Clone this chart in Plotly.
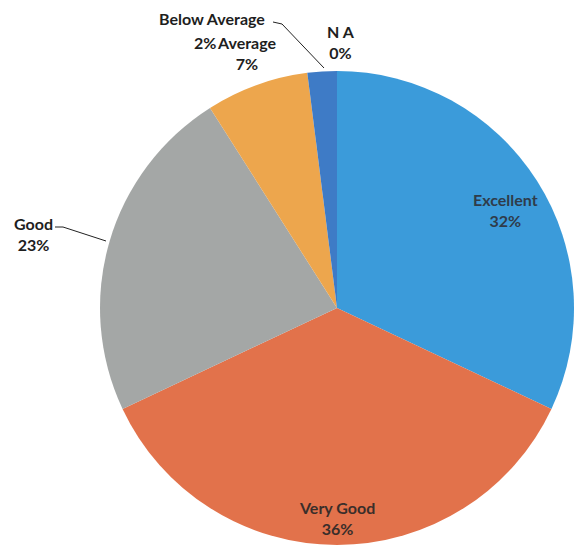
import plotly.graph_objects as go

categories = ["Excellent", "Very Good", "Good", "Average", "Below Average", "N A"]
values = [32, 36, 23, 7, 2, 0]
pct_labels = ["32%", "36%", "23%", "7%", "2%", "0%"]
colors = ["#3B9BDA", "#E2724B", "#A4A7A6", "#EDA64D", "#3E7BC6", "#3B9BDA"]

W, H = 574, 547

def px(x):
    return x / W

def py(y):
    return 1 - y / H

fig = go.Figure(go.Pie(
    labels=categories,
    values=values,
    sort=False,
    direction="clockwise",
    rotation=0,
    marker=dict(colors=colors, line=dict(width=0)),
    textinfo="none",
    hoverinfo="label+percent",
    showlegend=False,
    domain=dict(x=[px(100), 1.0], y=[py(545), py(71)]),
))

FONT = "Lato, Open Sans, sans-serif"
SIZE = 16

label_pos = {
    "Excellent": (505, 210, "#2F3C4A"),
    "Very Good": (337, 518, "#3A2E2A"),
    "Good": (33, 234, "#1E1E1E"),
    "Average": (246, 53, "#1E1E1E"),
    "N A": (341, 42, "#1E1E1E"),
}

def ann(x, y, text, col):
    return dict(x=px(x), y=py(y), xref="paper", yref="paper",
                xanchor="center", yanchor="middle",
                text=text, showarrow=False, align="center",
                font=dict(family=FONT, size=SIZE, color=col))

annotations = []
for cat, pct in zip(categories, pct_labels):
    if cat == "Below Average":
        annotations.append(ann(212, 18, f"<b>{cat}</b>", "#1E1E1E"))
        annotations.append(ann(205, 42, f"<b>{pct}</b>", "#1E1E1E"))
    else:
        x, y, col = label_pos[cat]
        annotations.append(ann(x, y, f"<b>{cat}</b><br><b>{pct}</b>", col))

shapes = [
    dict(type="path", xref="paper", yref="paper",
         path=f"M {px(273)},{py(22)} L {px(282)},{py(24)} L {px(324)},{py(68)}",
         line=dict(color="#222222", width=1)),
    dict(type="path", xref="paper", yref="paper",
         path=f"M {px(55)},{py(227)} L {px(63)},{py(227)} L {px(106)},{py(241)}",
         line=dict(color="#222222", width=1)),
]

fig.update_layout(
    width=W, height=H,
    margin=dict(l=0, r=0, t=0, b=0),
    paper_bgcolor="white",
    plot_bgcolor="white",
    annotations=annotations,
    shapes=shapes,
)

fig.write_html(
    "out.html",
    config={"displayModeBar": False},
    post_script="document.body.style.margin='0';document.body.style.overflow='hidden';",
)
